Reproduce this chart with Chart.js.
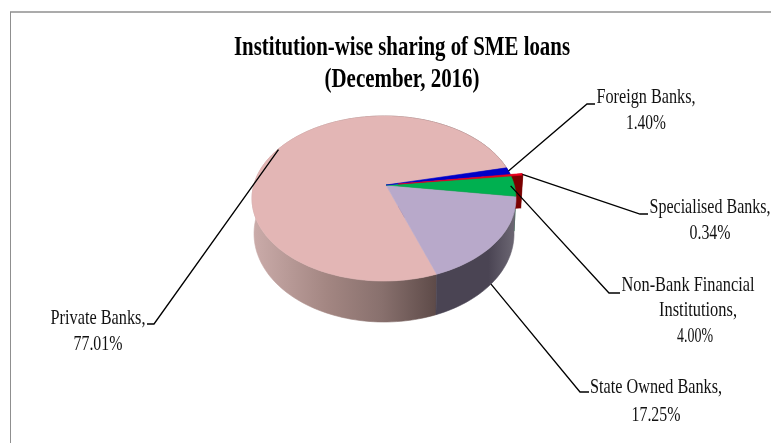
<!DOCTYPE html>
<html>
<head>
<meta charset="utf-8">
<style>html,body{margin:0;padding:0;background:#fff}canvas{display:block;filter:blur(0.35px)}</style>
<script src="https://cdn.jsdelivr.net/npm/chart.js@4"></script>
</head>
<body>
<canvas id="c" width="771" height="443"></canvas>
<script>
const titleLines = ['Institution-wise sharing of SME loans', '(December, 2016)'];
const categories = ['Foreign Banks', 'Specialised Banks', 'Non-Bank Financial Institutions', 'State Owned Banks', 'Private Banks'];
const shares = [1.40, 0.34, 4.00, 17.25, 77.01];
const topColors = ['#0000c8', '#f00020', '#00b050', '#b8a9ca', '#e3b6b5'];
const wallColors = ['#00006a', '#7a0000', '#005c2a', '#4a4453', '#a08482'];
const explode = [0, 10, 0, 0, 0];

// display geometry (perspective disc)
const view = { cx: 386, cy: 185, a: 130.2, b: 80.3, k: -0.1636, lean: -2, depth0: 34, depth1: 7, shrink: 0.985 };
const wallOrder = [4, 0, 2, 3, 1];
const topOrder = [4, 3, 2, 0, 1];
const titleLayout = [{ x: 402, y: 48, w: 336 }, { x: 402, y: 80, w: 155 }];
const calloutLayout = [
  { elbow: [587, 104], end: [595, 104], rim: 1.0, lines: [['Foreign Banks,', 646, 97, 99], ['1.40%', 646, 123, 40]] },
  { elbow: [640, 214], end: [648, 214], rim: 1.0, lines: [['Specialised Banks,', 710, 207, 121], ['0.34%', 710, 233, 41]] },
  { elbow: [609, 293], end: [620, 293], rim: 0.97, lines: [['Non-Bank Financial', 688, 285, 133], ['Institutions,', 698, 310, 78], ['4.00%', 695, 336, 36]] },
  { elbow: [580, 392], end: [589, 392], rim: 1.0, at: 0.55, onWall: true, lines: [['State Owned Banks,', 656, 387, 132], ['17.25%', 656, 415, 49]] },
  { elbow: [154, 324], end: [147, 324], rim: 0.995, at: 0.50, lines: [['Private Banks,', 98, 318, 95], ['77.01%', 98, 344, 49]] }
];

function proj(ux, uy) {
  const d = 1 + view.k * uy;
  const r2 = Math.min(1, ux * ux + uy * uy);
  return [view.cx + view.a * ux / d + view.lean * r2, view.cy + view.b * uy / d];
}
function wallPt(ux, uy) {
  const p = proj(ux, uy);
  return [view.cx + (p[0] - view.cx) * view.shrink, p[1] + view.depth0 + view.depth1 * uy];
}
function arcInfo(el) {
  const s = el.getProps(['startAngle', 'endAngle', 'outerRadius']);
  const off = (el.options.offset || 0) / 105;
  const mid = (s.startAngle + s.endAngle) / 2;
  return { s: s.startAngle, e: s.endAngle, ox: off * Math.cos(mid), oy: off * Math.sin(mid), mid };
}
function rimPts(info, fn) {
  const pts = [];
  const n = Math.max(2, Math.ceil((info.e - info.s) / 0.03));
  for (let i = 0; i <= n; i++) {
    const t = info.s + (info.e - info.s) * i / n;
    pts.push(fn(info.ox + Math.cos(t), info.oy + Math.sin(t)));
  }
  return pts;
}
function poly(ctx, pts) {
  ctx.beginPath();
  pts.forEach((p, i) => i ? ctx.lineTo(p[0], p[1]) : ctx.moveTo(p[0], p[1]));
  ctx.closePath();
}
const pie3d = {
  id: 'pie3d',
  beforeDatasetDraw(chart) {
    const ctx = chart.ctx;
    const meta = chart.getDatasetMeta(0);
    const colors = chart.data.datasets[0].backgroundColor;
    ctx.save();
    wallOrder.forEach(i => {
      const info = arcInfo(meta.data[i]);
      let fill = wallColors[i];
      if (i === 4) {
        const g = ctx.createLinearGradient(254, 0, 437, 0);
        g.addColorStop(0, '#caaba9'); g.addColorStop(0.4, '#a38682');
        g.addColorStop(0.7, '#88706d'); g.addColorStop(1, '#5d4a48');
        fill = g;
      } else if (i === 3) {
        const g = ctx.createLinearGradient(437, 0, 516, 0);
        g.addColorStop(0, '#4a4453'); g.addColorStop(0.65, '#4a4453'); g.addColorStop(1, '#6e6975');
        fill = g;
      }
      ctx.fillStyle = fill;
      ctx.strokeStyle = fill;
      ctx.lineWidth = 0.6;
      const top = rimPts(info, proj), bot = rimPts(info, wallPt);
      poly(ctx, top.concat(bot.reverse()));
      ctx.fill(); ctx.stroke();
      // cut faces of a pulled-out slice
      if (meta.data[i].options.offset) {
        [info.s, info.e].forEach(t => {
          const a = proj(info.ox, info.oy), b = proj(info.ox + Math.cos(t), info.oy + Math.sin(t));
          const c = wallPt(info.ox + Math.cos(t), info.oy + Math.sin(t)), d = wallPt(info.ox, info.oy);
          poly(ctx, [a, b, c, d]); ctx.fill();
        });
      }
    });
    topOrder.forEach(i => {
      const info = arcInfo(meta.data[i]);
      ctx.fillStyle = colors[i];
      ctx.strokeStyle = colors[i];
      ctx.lineWidth = 0.6;
      poly(ctx, [proj(info.ox, info.oy)].concat(rimPts(info, proj)));
      ctx.fill(); ctx.stroke();
    });
    ctx.restore();
    return false;
  },
  afterDraw(chart) {
    const ctx = chart.ctx;
    const meta = chart.getDatasetMeta(0);
    ctx.save();
    // frame
    ctx.strokeStyle = '#8f8f8f';
    ctx.lineWidth = 1;
    ctx.beginPath();
    ctx.moveTo(10.5, 443); ctx.lineTo(10.5, 12);
    ctx.stroke();
    ctx.lineWidth = 1.6;
    ctx.beginPath();
    ctx.moveTo(10, 12); ctx.lineTo(771, 12);
    ctx.stroke();
    // leaders
    ctx.strokeStyle = '#000';
    ctx.lineWidth = 1.3;
    calloutLayout.forEach((c, i) => {
      const info = arcInfo(meta.data[i]);
      const t = c.at !== undefined ? info.s + (info.e - info.s) * c.at : info.mid;
      const p = (c.onWall ? wallPt : proj)(info.ox + c.rim * Math.cos(t), info.oy + c.rim * Math.sin(t));
      ctx.beginPath();
      ctx.moveTo(p[0], p[1]); ctx.lineTo(c.elbow[0], c.elbow[1]); ctx.lineTo(c.end[0], c.end[1]);
      ctx.stroke();
    });
    // text, condensed to the reference widths
    ctx.fillStyle = '#000';
    ctx.textAlign = 'center';
    ctx.textBaseline = 'middle';
    ctx.font = 'bold 27px "Liberation Serif"';
    titleLines.forEach((t, i) => ctx.fillText(t, titleLayout[i].x, titleLayout[i].y, titleLayout[i].w));
    ctx.font = '21px "Liberation Serif"';
    ctx.fillStyle = '#111';
    calloutLayout.forEach(c => c.lines.forEach(l => ctx.fillText(l[0], l[1], l[2], l[3])));
    ctx.restore();
  }
};

new Chart(document.getElementById('c'), {
  type: 'pie',
  data: {
    labels: categories,
    datasets: [{ data: shares, backgroundColor: topColors, offset: explode, borderWidth: 0 }]
  },
  options: {
    responsive: false,
    animation: false,
    rotation: 77.2,
    plugins: { legend: { display: false }, title: { display: false }, tooltip: { enabled: false } }
  },
  plugins: [pie3d]
});
</script>
</body>
</html>
